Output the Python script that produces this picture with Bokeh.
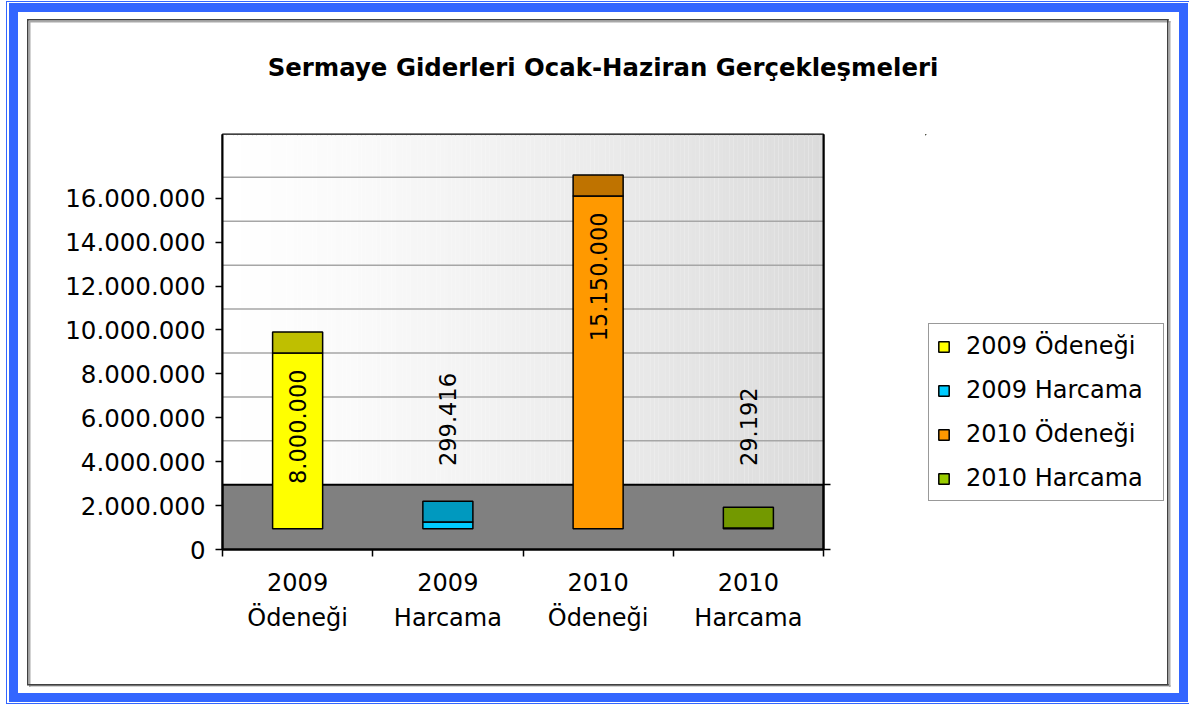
import numpy as np
from bokeh.plotting import figure
from bokeh.layouts import column, row
from bokeh.models import (Range1d, LinearAxis, FixedTicker, Legend,
                          LegendItem, ColumnDataSource, Label)
from bokeh.core.properties import value
from bokeh.embed import file_html
from bokeh.resources import INLINE

# ---------------- data ----------------
categories = ["2009 Ödeneği", "2009 Harcama", "2010 Ödeneği", "2010 Harcama"]
values = [8000000, 299416, 15150000, 29192]
value_labels = ["8.000.000", "299.416", "15.150.000", "29.192"]
x_tick_labels = ["2009\nÖdeneği", "2009\nHarcama", "2010\nÖdeneği", "2010\nHarcama"]
y_ticks = [0, 2000000, 4000000, 6000000, 8000000, 10000000, 12000000, 14000000, 16000000]
y_tick_labels = ["0", "2.000.000", "4.000.000", "6.000.000", "8.000.000",
                 "10.000.000", "12.000.000", "14.000.000", "16.000.000"]
title_text = "Sermaye Giderleri Ocak-Haziran Gerçekleşmeleri"

# ---------------- styles ----------------
front_colors = ["#ffff00", "#00ccff", "#ff9900", "#99cc00"]
top_colors = ["#bfbf00", "#0099bf", "#bf7300", "#739900"]
FONT = "DejaVu Sans"
W, H = 1189, 706
TOP_H = 124                     # height of the title strip
CW = 925                        # width of the chart figure
FL, FR, FT, FB = 222, 823, 134, 549          # plot frame in page pixels
DEPTH = 0.95e6                                # pseudo 3-D depth offset
FLOOR_TOP = 2.95e6
Y_MAX = 18.9e6
BAR_W = 0.333
LABEL_MIN = 5e6
NC = len(categories)


def ring(x0, y0, x1, y1, lw, color):
    rects = [(x0, y0, x1 - x0, lw), (x0, y1 - lw, x1 - x0, lw),
             (x0, y0, lw, y1 - y0), (x1 - lw, y0, lw, y1 - y0)]
    return ["linear-gradient(%s,%s) %.1fpx %.1fpx / %.1fpx %.1fpx no-repeat"
            % (color, color, x, y, w, h) for (x, y, w, h) in rects]


layers = (ring(27, 19, 1168.7, 685.3, 1.5, "#404040")
          + ring(28.5, 20.5, 1170, 686.8, 1.5, "#a8a8a8")
          + ring(6, 1.3, 1190, 704.3, 1.4, "#3366ff")
          + ring(9, 3, 1188.3, 702, 9, "#3366ff"))
page_bg = ", ".join(layers) + ", #ffffff"

# ---------------- title strip ----------------
tp = figure(width=W, height=TOP_H, x_range=Range1d(0, W), y_range=Range1d(TOP_H, 0),
            x_axis_location=None, y_axis_location=None,
            output_backend="svg", toolbar_location=None,
            min_border=0, background_fill_color=None, border_fill_color=None,
            outline_line_color=None)
tp.grid.visible = False
tp.add_layout(Label(x=602.5, y=66.5, text=title_text, text_align="center",
                    text_baseline="alphabetic", text_font=FONT,
                    text_font_style="bold", text_font_size="24.4px",
                    text_color="black"))

# ---------------- chart ----------------
p = figure(width=CW, height=H - TOP_H,
           x_range=Range1d(0, NC), y_range=Range1d(0, Y_MAX),
           x_axis_location=None, y_axis_location="left",
           output_backend="svg", toolbar_location=None,
           min_border_left=FL, min_border_right=CW - FR,
           min_border_top=FT - TOP_H, min_border_bottom=H - FB,
           background_fill_color="white", border_fill_color=None,
           outline_line_color="black", outline_line_width=2)
p.grid.visible = False

# background gradient (white -> light gray)
n = 160
lefts = np.linspace(0, NC, n + 1)[:-1]
rights = lefts + NC / n * 1.02
t = (lefts + 0.5 * NC / n) / NC
shade = (255 - 36 * t ** 1.25).round().astype(int)
grad_colors = ["#%02x%02x%02x" % (s, s, s) for s in shade]
p.quad(left=lefts, right=rights, bottom=0, top=Y_MAX, fill_color=grad_colors,
       line_color=None)

# gridlines (shifted by depth), only above the floor
grid_vals = [v + DEPTH for v in y_ticks if v + DEPTH > FLOOR_TOP + 1]
p.segment(x0=0, x1=NC, y0=grid_vals, y1=grid_vals,
          line_color="#a6a6a6", line_width=1.5)

# floor
p.quad(left=[0], right=[NC], bottom=[0], top=[FLOOR_TOP],
       fill_color="#808080", line_color="black", line_width=2)

# bars
xpos = [i + 0.5 for i in range(NC)]
src = ColumnDataSource(dict(
    x=xpos,
    cat=categories,
    val=values,
    bottom=[DEPTH] * NC,
    front_top=[v + DEPTH for v in values],
    top_top=[v + 2 * DEPTH for v in values],
    front=front_colors,
    topc=top_colors,
))
p.vbar(x="x", width=BAR_W, bottom="bottom", top="front_top", source=src,
       fill_color="front", line_color="black", line_width=1.5)
p.vbar(x="x", width=BAR_W, bottom="front_top", top="top_top", source=src,
       fill_color="topc", line_color="black", line_width=1.5)

# value labels
inside = [i for i, v in enumerate(values) if v > LABEL_MIN]
outside = [i for i, v in enumerate(values) if v <= LABEL_MIN]
p.text(x=[xpos[i] for i in inside],
       y=[values[i] + DEPTH - 0.75e6 for i in inside],
       text=[value_labels[i] for i in inside], angle=np.pi / 2,
       text_align="right", text_baseline="middle",
       text_font=value(FONT), text_font_size="22.5px", text_color="black")
p.text(x=[xpos[i] for i in outside],
       y=[FLOOR_TOP + 0.85e6 for i in outside],
       text=[value_labels[i] for i in outside], angle=np.pi / 2,
       text_align="left", text_baseline="middle",
       text_font=value(FONT), text_font_size="22.5px", text_color="black")

# y axis
ya = p.yaxis[0]
ya.ticker = FixedTicker(ticks=y_ticks)
ya.major_label_overrides = dict(zip(y_ticks, y_tick_labels))
ya.major_tick_out = 7
ya.major_tick_in = 0
ya.minor_tick_line_color = None
ya.axis_line_color = "black"
ya.axis_line_width = 2
ya.major_tick_line_color = "black"
ya.major_tick_line_width = 1.5
ya.major_label_standoff = 10
ya.major_label_text_font = FONT
ya.major_label_text_font_size = "24.5px"
ya.major_label_text_color = "black"

# x axis with ticks between categories
bounds = list(range(NC + 1))
xa = LinearAxis(ticker=FixedTicker(ticks=xpos, minor_ticks=bounds),
                major_label_overrides=dict(zip(xpos, x_tick_labels)),
                major_tick_line_color=None, major_tick_out=0, major_tick_in=0,
                minor_tick_out=7, minor_tick_in=0, minor_tick_line_color="black",
                minor_tick_line_width=1.5,
                axis_line_color="black", axis_line_width=2,
                major_label_standoff=12,
                major_label_text_font=FONT, major_label_text_font_size="24px",
                major_label_text_line_height=1.27, major_label_text_color="black")
p.add_layout(xa, "below")

# right floor edge ticks
ra = LinearAxis(ticker=FixedTicker(ticks=[0, FLOOR_TOP]),
                major_label_overrides={0: "", FLOOR_TOP: ""},
                major_tick_out=7, major_tick_in=0, minor_tick_line_color=None,
                major_tick_line_color="black", major_tick_line_width=1.5,
                axis_line_color="black", axis_line_width=2)
p.add_layout(ra, "right")

# ---------------- legend panel ----------------
LW = W - CW
LH = H - TOP_H
lp = figure(width=LW, height=LH, x_range=Range1d(100, 100 + LW),
            y_range=Range1d(-LH, 0),
            x_axis_location=None, y_axis_location=None,
            output_backend="svg", toolbar_location=None,
            min_border=0, background_fill_color=None, border_fill_color=None,
            outline_line_color=None)
lp.grid.visible = False
# legend swatches: same series, kept outside this panel's visible range
key = lp.vbar(x="x", width=BAR_W, bottom="bottom", top="front_top", source=src,
              fill_color="front", line_color="black", line_width=1.5)
items = [LegendItem(label=categories[i], renderers=[key], index=i)
         for i in range(NC)]
# row layout aligns this panel's frame with the chart frame (bottom at FB)
legend = Legend(items=items, location=(928 - CW, FB - 501),
                label_text_font=FONT, label_text_font_size="24px",
                label_text_color="black", label_width=189,
                glyph_width=13, glyph_height=13, label_standoff=16,
                spacing=16, padding=8, margin=0,
                border_line_color="#333333", border_line_width=1.5,
                background_fill_color="white", background_fill_alpha=1.0)
lp.add_layout(legend)

layout = column(tp, row(p, lp, spacing=0), spacing=0)
layout.styles = {"background": page_bg}

open("out.html", "w").write(file_html(layout, INLINE))
